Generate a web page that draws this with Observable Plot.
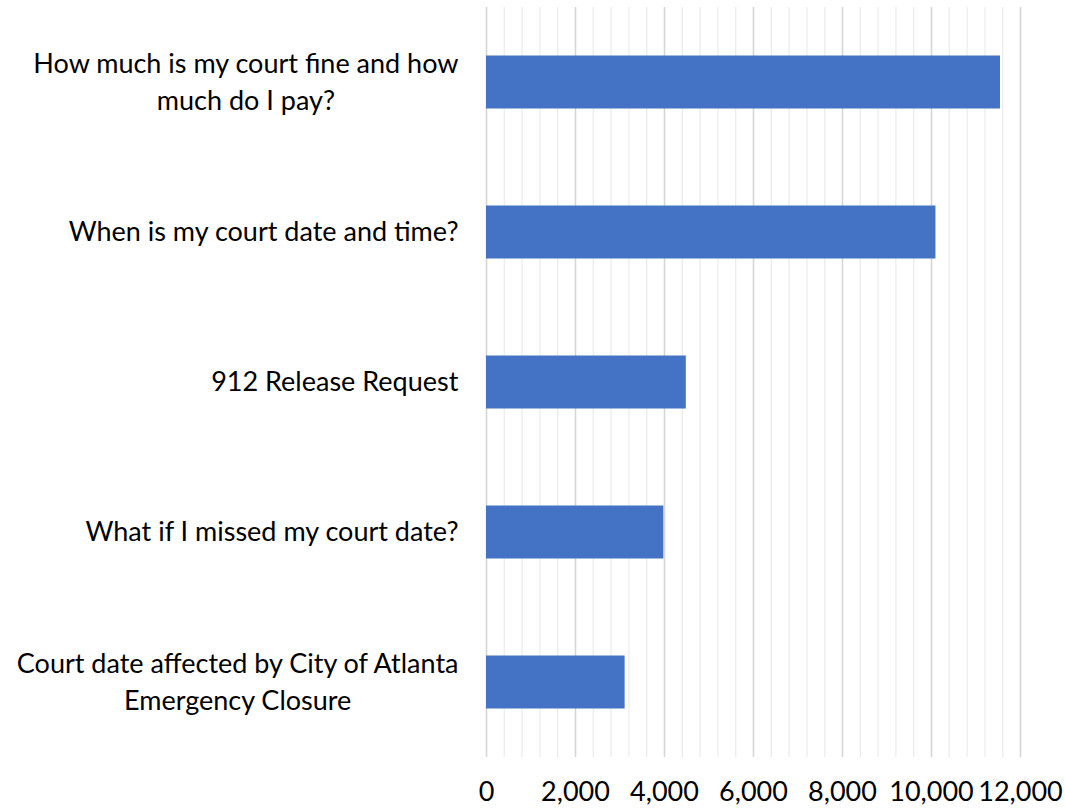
<!DOCTYPE html>
<html>
<head>
<meta charset="utf-8">
<script src="https://cdn.jsdelivr.net/npm/d3@7"></script>
<script src="https://cdn.jsdelivr.net/npm/@observablehq/plot@0.6"></script>
<style>
  html, body { margin: 0; padding: 0; background: #fff; }
  #chart svg { display: block; }
</style>
</head>
<body>
<div id="chart"></div>
<script>
const categories = [
  "How much is my court fine and how\nmuch do I pay?",
  "When is my court date and time?",
  "912 Release Request",
  "What if I missed my court date?",
  "Court date affected by City of Atlanta\nEmergency Closure"
];
const values = [11550, 10100, 4490, 3985, 3115];
const majorTicks = [0, 2000, 4000, 6000, 8000, 10000, 12000];
const minorTicks = d3.range(0, 12001, 400);

const data = categories.map((c, i) => ({category: c, value: values[i]}));

const FONT = "Lato, 'Open Sans', sans-serif";

const chart = Plot.plot({
  width: 1065,
  height: 809,
  marginLeft: 486,
  marginRight: 45,
  marginTop: 7,
  marginBottom: 52,
  style: {fontFamily: FONT, fontSize: "27px", color: "#000", background: "#fff"},
  x: {domain: [0, 12000], axis: null},
  y: {domain: categories, padding: 0, axis: null},
  marks: [
    Plot.ruleX(minorTicks, {stroke: "#ececec", strokeWidth: 1.3}),
    Plot.ruleX(majorTicks, {stroke: "#d6d6d6", strokeWidth: 1.5}),
    Plot.barX(data, {y: "category", x: "value", fill: "#4472C4", insetTop: 48.5, insetBottom: 48.5}),
    Plot.axisX(majorTicks, {
      tickSize: 0, tickPadding: 24, fontSize: 27, fill: "#000",
      tickFormat: d3.format(","), label: null
    }),
    Plot.axisY({
      tickSize: 0, tickPadding: 28, fontSize: 27, fill: "#000",
      lineHeight: 1.37, dy: -3, label: null
    })
  ]
});

document.getElementById("chart").appendChild(chart);

// center the lines of each y-axis label inside its right-aligned block
const yAxis = chart.querySelector("g[aria-label='y-axis tick label']");
if (yAxis) {
  yAxis.querySelectorAll("text").forEach(t => {
    const b = t.getBBox();
    const w = b.width;
    t.setAttribute("text-anchor", "middle");
    const tr = t.getAttribute("transform") || "";
    t.setAttribute("transform", tr + ` translate(${-w / 2},0)`);
  });
}
</script>
</body>
</html>
